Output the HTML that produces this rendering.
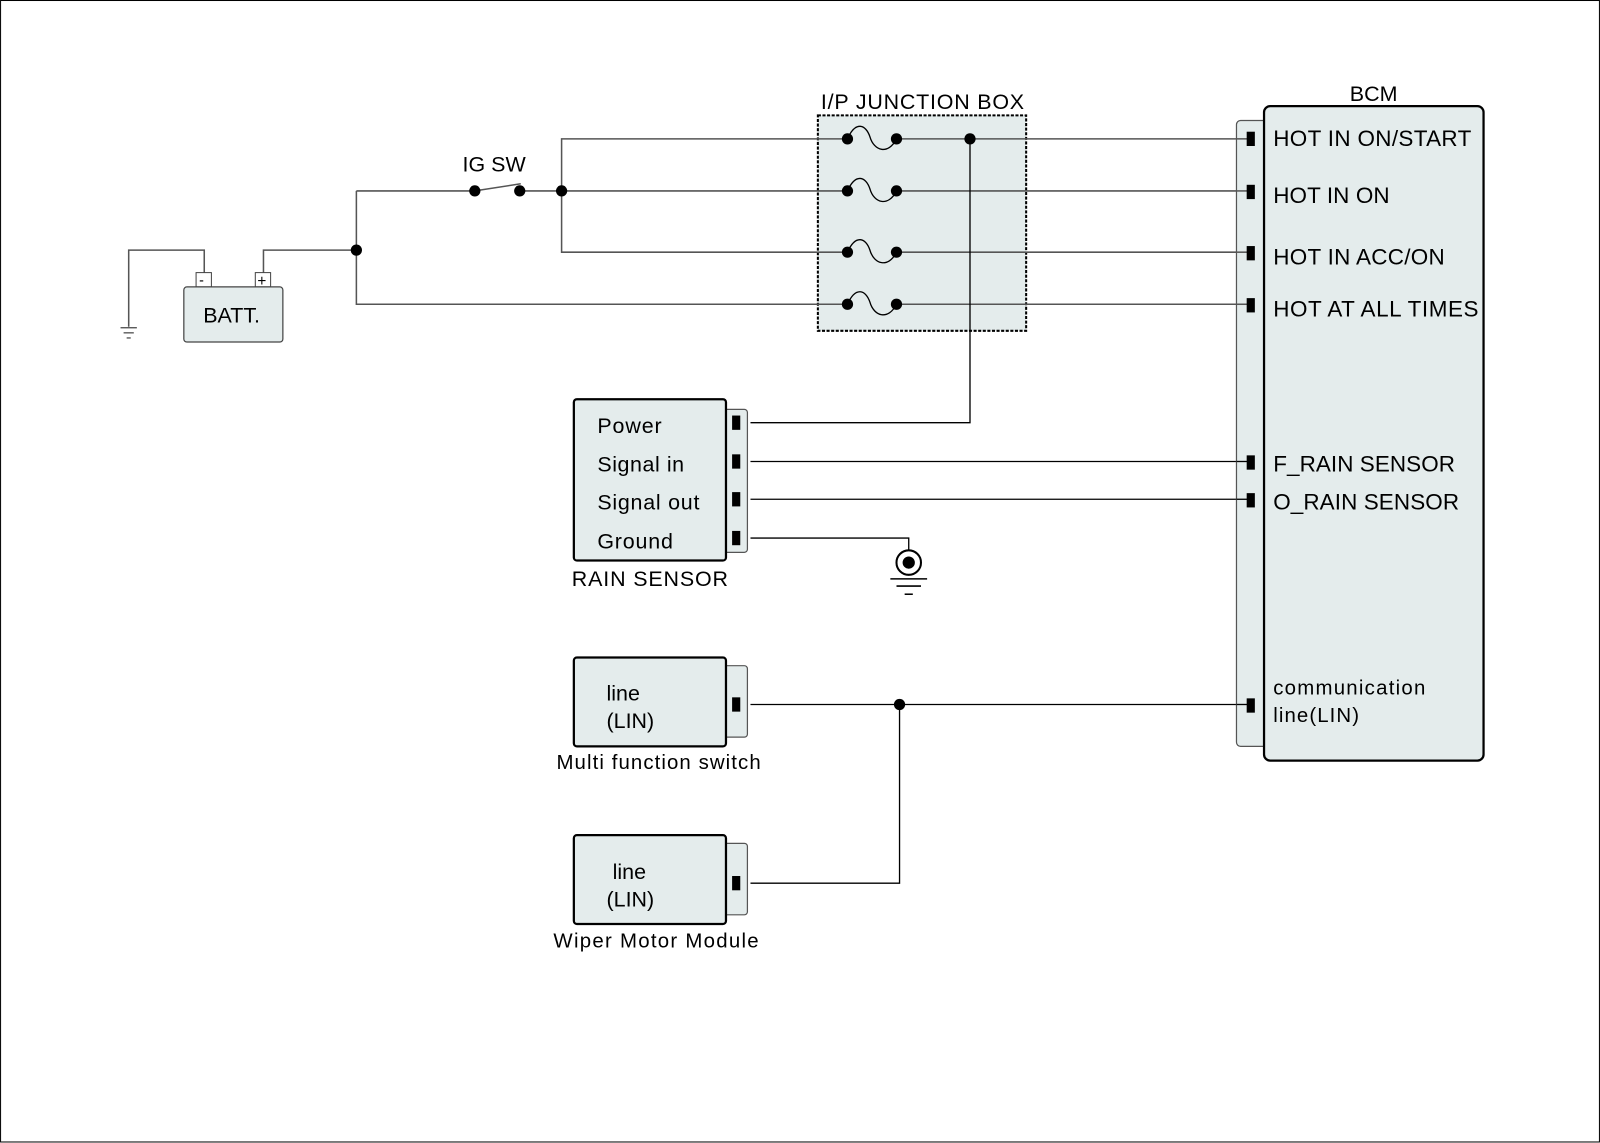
<!DOCTYPE html>
<html><head><meta charset="utf-8"><style>
html,body{margin:0;padding:0;background:#fff}
svg{display:block}
text{font-family:"Liberation Sans",sans-serif;fill:#000}
</style></head><body>
<svg width="1600" height="1143" viewBox="0 0 1567 1119.5" xmlns="http://www.w3.org/2000/svg">
<rect x="0.5" y="0.5" width="1566" height="1118" fill="#fff" stroke="#000" stroke-width="1"/>
<!-- junction box background first -->
<rect x="801" y="113" width="204" height="211" fill="#e4ecec" stroke="#000" stroke-width="2" stroke-dasharray="3,1.5"/>
<g stroke="#555" stroke-width="1.5" fill="none">
<polyline points="126,320 126,245 200,245 200,268"/>
<polyline points="258,268 258,245 349,245"/>
<polyline points="349,187 349,298 830,298"/>
<polyline points="349,187 465,187"/>
<line x1="465" y1="187" x2="510" y2="180"/>
<polyline points="509,187 830,187"/>
<polyline points="830,136 550,136 550,247 830,247"/>
<line x1="878" y1="136" x2="1222" y2="136"/>
<line x1="878" y1="187" x2="1222" y2="187"/>
<line x1="878" y1="247" x2="1222" y2="247"/>
<line x1="878" y1="298" x2="1222" y2="298"/>
</g>
<g stroke="#444" stroke-width="1.2">
<line x1="118" y1="321" x2="134" y2="321"/><line x1="121" y1="326" x2="131" y2="326"/><line x1="124" y1="331" x2="128" y2="331"/>
</g>
<rect x="192" y="267" width="15" height="14" fill="#fff" stroke="#444" stroke-width="1"/>
<rect x="250" y="267" width="15" height="14" fill="#fff" stroke="#444" stroke-width="1"/>
<text x="195" y="279" font-size="14">-</text><text x="252" y="280" font-size="15">+</text>
<rect x="180" y="281" width="97" height="54" rx="3" fill="#e4ecec" stroke="#444" stroke-width="1.2"/>
<text x="199" y="316" font-size="21">BATT.</text>
<text x="453" y="168" font-size="21">IG SW</text>
<text x="804" y="107" font-size="21" textLength="199">I/P JUNCTION BOX</text>
<g stroke="#000" stroke-width="1.3" fill="none">
<path d="M830,136 C838,118 848,122 852,134 C856,148 870,152 878,136"/>
<path d="M830,187 C838,169 848,173 852,185 C856,199 870,203 878,187"/>
<path d="M830,247 C838,229 848,233 852,245 C856,259 870,263 878,247"/>
<path d="M830,298 C838,280 848,284 852,296 C856,310 870,314 878,298"/>
<polyline points="950,136 950,414 735,414"/>
<line x1="735" y1="452" x2="1222" y2="452"/>
<line x1="735" y1="489" x2="1222" y2="489"/>
<polyline points="735,527 890,527 890,540"/>
<line x1="735" y1="690" x2="1222" y2="690"/>
<polyline points="881,690 881,865 735,865"/>
</g>
<g fill="#000">
<circle cx="349" cy="245" r="5.5"/><circle cx="465" cy="187" r="5.5"/><circle cx="509" cy="187" r="5.5"/><circle cx="550" cy="187" r="5.5"/>
<circle cx="830" cy="136" r="5.5"/><circle cx="878" cy="136" r="5.5"/><circle cx="950" cy="136" r="5.5"/>
<circle cx="830" cy="187" r="5.5"/><circle cx="878" cy="187" r="5.5"/>
<circle cx="830" cy="247" r="5.5"/><circle cx="878" cy="247" r="5.5"/>
<circle cx="830" cy="298" r="5.5"/><circle cx="878" cy="298" r="5.5"/>
<circle cx="881" cy="690" r="5.5"/>
</g>
<circle cx="890" cy="551" r="12" fill="#fff" stroke="#000" stroke-width="2"/>
<circle cx="890" cy="551" r="6" fill="#000"/>
<g stroke="#000" stroke-width="1.5"><line x1="872" y1="567" x2="908" y2="567"/><line x1="878" y1="574" x2="902" y2="574"/><line x1="886" y1="582" x2="894" y2="582"/></g>
<!-- BCM -->
<rect x="1211" y="118" width="40" height="613" rx="4" fill="#e4ecec" stroke="#555" stroke-width="1.2"/>
<line x1="1211" y1="136" x2="1222" y2="136" stroke="#555" stroke-width="1.5"/>
<line x1="1211" y1="187" x2="1222" y2="187" stroke="#555" stroke-width="1.5"/>
<line x1="1211" y1="247" x2="1222" y2="247" stroke="#555" stroke-width="1.5"/>
<line x1="1211" y1="298" x2="1222" y2="298" stroke="#555" stroke-width="1.5"/>
<line x1="1211" y1="452" x2="1222" y2="452" stroke="#000" stroke-width="1.3"/>
<line x1="1211" y1="489" x2="1222" y2="489" stroke="#000" stroke-width="1.3"/>
<line x1="1211" y1="690" x2="1222" y2="690" stroke="#000" stroke-width="1.3"/>
<rect x="1238" y="104" width="215" height="641" rx="6" fill="#e4ecec" stroke="#000" stroke-width="2.2"/>
<text x="1322" y="99" font-size="21">BCM</text>
<g fill="#000">
<rect x="1221" y="129" width="8" height="14"/><rect x="1221" y="181" width="8" height="14"/><rect x="1221" y="241" width="8" height="14"/><rect x="1221" y="292" width="8" height="14"/>
<rect x="1221" y="446" width="8" height="14"/><rect x="1221" y="483" width="8" height="14"/><rect x="1221" y="684" width="8" height="14"/>
</g>
<g font-size="22">
<text x="1247" y="143" textLength="194">HOT IN ON/START</text>
<text x="1247" y="199" textLength="114">HOT IN ON</text>
<text x="1247" y="259" textLength="168">HOT IN ACC/ON</text>
<text x="1247" y="310" textLength="201">HOT AT ALL TIMES</text>
<text x="1247" y="462" textLength="178">F_RAIN SENSOR</text>
<text x="1247" y="499" textLength="182">O_RAIN SENSOR</text>
<text x="1247" y="680" font-size="20" textLength="149">communication</text>
<text x="1247" y="707" font-size="20" textLength="84">line(LIN)</text>
</g>
<!-- Rain sensor -->
<rect x="706" y="401" width="26" height="140" rx="3" fill="#e4ecec" stroke="#555" stroke-width="1.2"/>
<rect x="562" y="391" width="149" height="158" rx="3" fill="#e4ecec" stroke="#000" stroke-width="2.2"/>
<g fill="#000"><rect x="717" y="407" width="8" height="14"/><rect x="717" y="445" width="8" height="14"/><rect x="717" y="482" width="8" height="14"/><rect x="717" y="520" width="8" height="14"/></g>
<g font-size="21"><text x="585" y="424" textLength="63">Power</text><text x="585" y="462" textLength="85">Signal in</text><text x="585" y="499" textLength="100">Signal out</text><text x="585" y="537" textLength="74">Ground</text>
<text x="560" y="574" textLength="153">RAIN SENSOR</text></g>
<!-- Multi function switch -->
<rect x="706" y="652" width="26" height="70" rx="3" fill="#e4ecec" stroke="#555" stroke-width="1.2"/>
<rect x="562" y="644" width="149" height="87" rx="3" fill="#e4ecec" stroke="#000" stroke-width="2.2"/>
<rect x="717" y="683" width="8" height="14" fill="#000"/>
<g font-size="21"><text x="594" y="686">line</text><text x="594" y="713">(LIN)</text></g>
<text x="545" y="753" font-size="20" textLength="200">Multi function switch</text>
<!-- Wiper motor -->
<rect x="706" y="826" width="26" height="70" rx="3" fill="#e4ecec" stroke="#555" stroke-width="1.2"/>
<rect x="562" y="818" width="149" height="87" rx="3" fill="#e4ecec" stroke="#000" stroke-width="2.2"/>
<rect x="717" y="858" width="8" height="14" fill="#000"/>
<g font-size="21"><text x="600" y="861">line</text><text x="594" y="888">(LIN)</text></g>
<text x="542" y="928" font-size="20" textLength="201">Wiper Motor Module</text>
</svg>
</body></html>
